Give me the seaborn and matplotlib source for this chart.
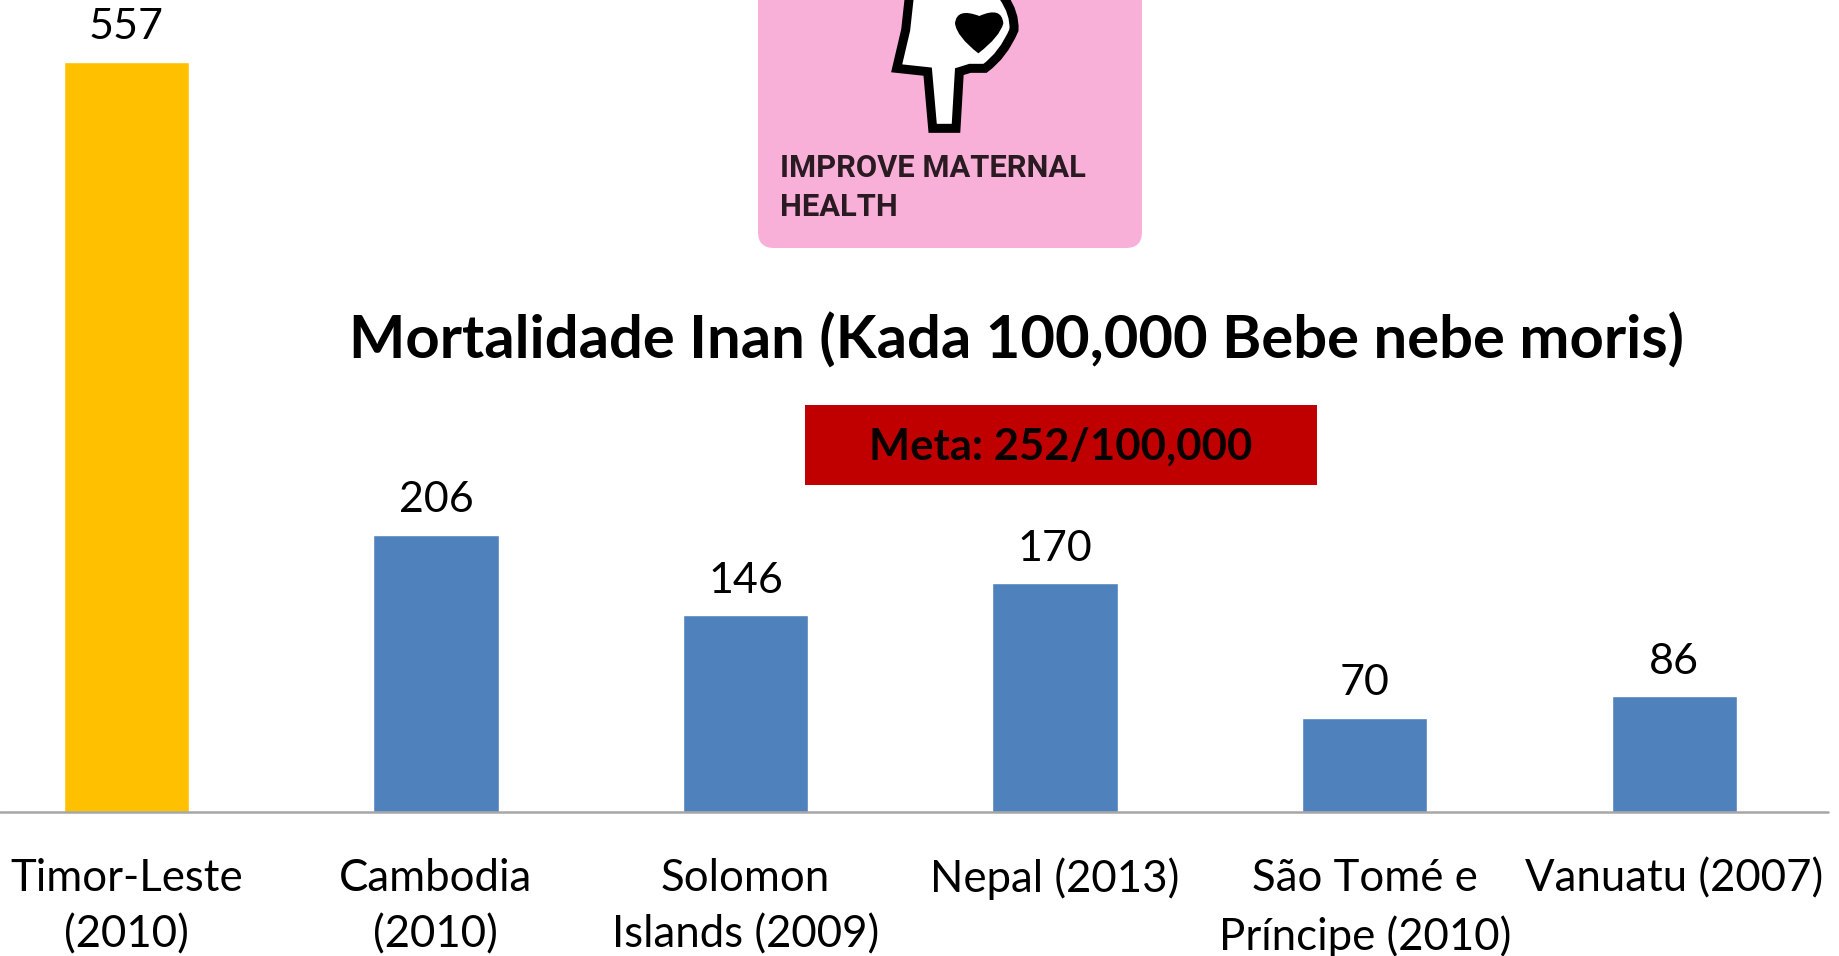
import matplotlib
matplotlib.use('Agg')
import matplotlib.pyplot as plt
import pandas as pd
import seaborn as sns
from matplotlib.patches import FancyBboxPatch, PathPatch, Rectangle
from matplotlib.path import Path

# values
countries = ['Timor-Leste\n(2010)', 'Cambodia\n(2010)', 'Solomon\nIslands (2009)',
             'Nepal (2013)', 'São Tomé e\nPríncipe (2010)', 'Vanuatu (2007)']
mortality = [557, 206, 146, 170, 70, 86]
bar_colors = ['#FFC000', '#4F81BD', '#4F81BD', '#4F81BD', '#4F81BD', '#4F81BD']

title_text = 'Mortalidade Inan (Kada 100,000 Bebe nebe moris)'
target_text = 'Meta: 252/100,000'
logo_lines = 'IMPROVE MATERNAL\nHEALTH'

W, H = 1839, 956
BASE_Y = 812

sns.set_theme(style='white')
plt.rcParams['font.family'] = ['Lato', 'DejaVu Sans']

fig = plt.figure(figsize=(W / 100, H / 100), dpi=100, facecolor='white')
ax = fig.add_axes([0, 1 - BASE_Y / H, 1, BASE_Y / H])

data = pd.DataFrame({'country': countries, 'mortality': mortality})
sns.barplot(data=data, x='country', y='mortality', hue='country', palette=bar_colors,
            legend=False, width=0.405, saturation=1, ax=ax)

# bar labels
for cont in ax.containers:
    ax.bar_label(cont, fontsize=31, color='black', padding=11)

ax.set_xlim(-0.408, 5.532)
ax.set_ylim(0, BASE_Y / 1.347)
ax.set_xlabel('')
ax.set_ylabel('')
ax.set_yticks([])
ax.tick_params(axis='x', length=0, pad=33, labelsize=31.5, labelcolor='black')
for lab in ax.get_xticklabels():
    lab.set_linespacing(1.47)
for side in ['top', 'right', 'left', 'bottom']:
    ax.spines[side].set_visible(False)
ax.plot([0, 1828 / W], [0, 0], transform=ax.transAxes, color='#A6A6A6', lw=1.8,
        clip_on=False, zorder=5)

# overlay in pixel coordinates for the logo, title and target box
over = fig.add_axes([0, 0, 1, 1], facecolor='none')
over.set_xlim(0, W)
over.set_ylim(H, 0)
over.axis('off')

over.add_patch(FancyBboxPatch((758, -40), 384, 288, boxstyle='round,pad=0,rounding_size=16',
                              fc='#F9B0D8', ec='none'))


def zp(x, y):
    return (740 + x / 3, y / 3)


body_pts = [(508, -10), (497, 90), (470, 205), (563, 215), (578, 385), (648, 385), (658, 215),
            (690, 205), (735, 205), (790, 165), (822, 90), (825, 40), (790, -10)]
body_codes = [Path.MOVETO] + [Path.LINETO] * 8 + [Path.CURVE3] * 4
over.add_patch(PathPatch(Path([zp(x, y) for x, y in body_pts], body_codes), fc='white',
                         ec='black', lw=6.5, joinstyle='miter'))

heart_pts = [(715, 160), (650, 110), (645, 70), (650, 22), (718, 48), (785, 18), (790, 70),
             (780, 110), (715, 160)]
heart_codes = [Path.MOVETO] + [Path.CURVE3] * 8
over.add_patch(PathPatch(Path([zp(x, y) for x, y in heart_pts], heart_codes), fc='black', ec='none'))

over.text(780, 153, logo_lines.split('\n')[0], fontsize=22.2, fontweight='bold', family='Roboto',
          color='#2A1A22', ha='left', va='top')
over.text(780, 192, logo_lines.split('\n')[1], fontsize=22.2, fontweight='bold', family='Roboto',
          color='#2A1A22', ha='left', va='top')

over.text(1017, 341, title_text, fontsize=43, fontweight='bold', color='black',
          ha='center', va='center')

over.add_patch(Rectangle((805, 405), 512, 80, fc='#C00000', ec='none'))
over.text(1061, 447, target_text, fontsize=31.4, fontweight='bold', color='#0A0000',
          ha='center', va='center')

fig.savefig('out.png', dpi=100)
